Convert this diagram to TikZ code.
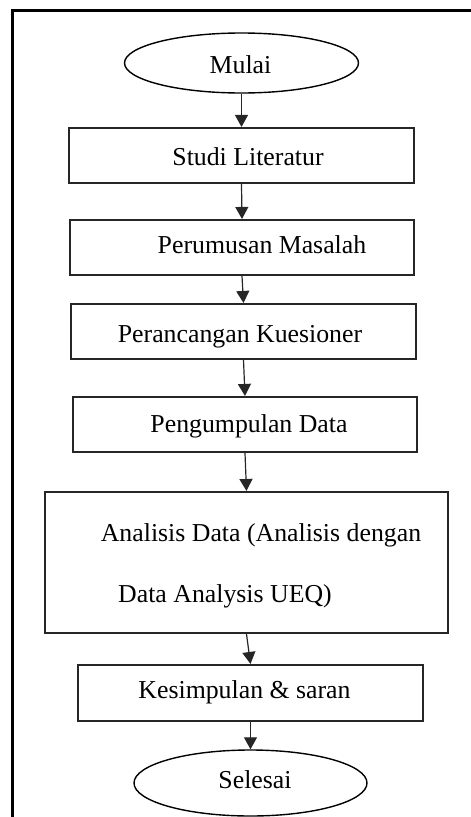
\documentclass[tikz,border=0pt]{standalone}
\usepackage{fontspec}
\setmainfont{Liberation Serif}
\usetikzlibrary{shapes.geometric,arrows.meta}
\tikzset{
  box/.style={draw=black!85, line width=2.1pt, rectangle, inner sep=0pt},
  term/.style={draw=black, line width=1.4pt, ellipse, inner sep=0pt},
  lbl/.style={anchor=base, inner sep=0pt, font=\fontsize{25.8}{30}\selectfont},
  arr/.style={draw=black!85, line width=1.2pt, -{Triangle[length=12pt,width=13pt]}},
  frameline/.style={line width=2.2pt, draw=black}
}
\begin{document}
\begin{tikzpicture}[x=1pt,y=-1pt]
\useasboundingbox (0,0) rectangle (471,817);
% outer frame
\draw[frameline] (12.5,817) -- (12.5,10.5) -- (471,10.5);
% shapes
\node[term, minimum width=234pt, minimum height=60pt] (mulai) at (241.5,63) {};
\node[box, minimum width=345pt, minimum height=55pt] (studi) at (241.5,155.5) {};
\node[box, minimum width=344pt, minimum height=55pt] (perumusan) at (242,247.5) {};
\node[box, minimum width=345pt, minimum height=55pt] (perancangan) at (243.5,331.5) {};
\node[box, minimum width=344pt, minimum height=55pt] (pengumpulan) at (245,424.5) {};
\node[box, minimum width=403pt, minimum height=141pt] (analisis) at (246.5,562.5) {};
\node[box, minimum width=345pt, minimum height=56pt] (kesimpulan) at (250.5,693) {};
\node[term, minimum width=233pt, minimum height=66pt] (selesai) at (250.5,783) {};
% texts
\node[lbl] (tmulai) at (240.5,73) {Mulai};
\node[lbl] (tstudi) at (248,165) {Studi Literatur};
\node[lbl] (tperumusan) at (262,253) {Perumusan Masalah};
\node[lbl] (tperancangan) at (240,342) {Perancangan Kuesioner};
\node[lbl] (tpengumpulan) at (249,432) {Pengumpulan Data};
\node[lbl] (tanalisisa) at (261,541) {Analisis Data (Analisis dengan};
\node[lbl] (tanalisisb) at (225,602) {Data Analysis UEQ)};
\node[lbl] (tkesimpulan) at (244.5,698) {Kesimpulan \& saran};
\node[lbl] (tselesai) at (255,788) {Selesai};
% connectors
\draw[arr] (mulai.south) -- (studi.north);
\draw[arr] (studi.south) -- (perumusan.north);
\draw[arr] (perumusan.south) -- (perancangan.north);
\draw[arr] (perancangan.south) -- (pengumpulan.north);
\draw[arr] (pengumpulan.south) -- (analisis.north);
\draw[arr] (analisis.south) -- (kesimpulan.north);
\draw[arr] (kesimpulan.south) -- (selesai.north);
\end{tikzpicture}
\end{document}
